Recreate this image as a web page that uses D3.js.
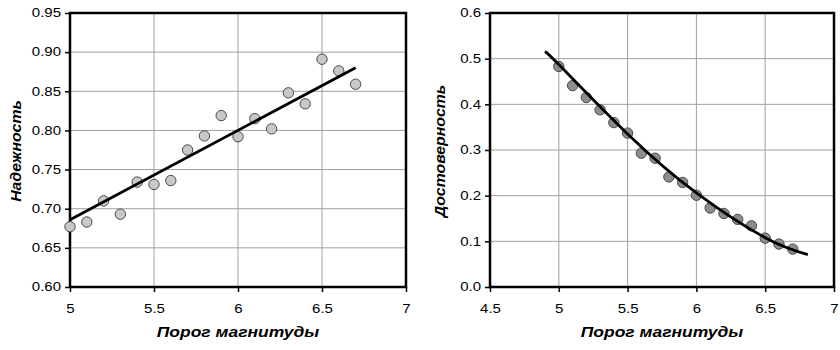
<!DOCTYPE html>
<html>
<head>
<meta charset="utf-8">
<script src="https://cdn.jsdelivr.net/npm/d3@7"></script>
<style>
  html, body { margin: 0; padding: 0; background: #fff; }
  svg { display: block; }
  .tick text { font-family: "Liberation Sans", Arial, sans-serif; font-size: 12px; fill: #000; }
  .title { font-family: "Liberation Sans", Arial, sans-serif; font-size: 14px; font-weight: bold; font-style: italic; fill: #000; }
</style>
</head>
<body>
<svg id="chart" width="840" height="350"></svg>
<script>
// Magnitude thresholds shared by both panels
const magnitudes = [5.0, 5.1, 5.2, 5.3, 5.4, 5.5, 5.6, 5.7, 5.8, 5.9, 6.0, 6.1, 6.2, 6.3, 6.4, 6.5, 6.6, 6.7];

// Left panel: reliability
const reliability = [0.677, 0.683, 0.710, 0.693, 0.734, 0.731, 0.736, 0.775, 0.793, 0.819,
                     0.792, 0.815, 0.802, 0.848, 0.834, 0.891, 0.876, 0.859];
const reliabilityTrendX = [5.0, 6.7];
const reliabilityTrendY = [0.686, 0.880];

// Right panel: credibility
const credibility = [0.483, 0.441, 0.415, 0.388, 0.360, 0.337, 0.293, 0.282, 0.241, 0.229,
                     0.201, 0.173, 0.161, 0.148, 0.134, 0.107, 0.094, 0.083];
const credibilityTrendX = [4.91, 5.0, 5.5, 6.0, 6.5, 6.81];
const credibilityTrendY = [0.512, 0.487, 0.335, 0.206, 0.108, 0.071];

// Axis ticks and labels
const leftXTicks = [5, 5.5, 6, 6.5, 7];
const leftXLabels = ["5", "5.5", "6", "6.5", "7"];
const leftYTicks = [0.60, 0.65, 0.70, 0.75, 0.80, 0.85, 0.90, 0.95];
const leftYLabels = ["0.60", "0.65", "0.70", "0.75", "0.80", "0.85", "0.90", "0.95"];
const rightXTicks = [4.5, 5, 5.5, 6, 6.5, 7];
const rightXLabels = ["4.5", "5", "5.5", "6", "6.5", "7"];
const rightYTicks = [0.0, 0.1, 0.2, 0.3, 0.4, 0.5, 0.6];
const rightYLabels = ["0.0", "0.1", "0.2", "0.3", "0.4", "0.5", "0.6"];

const xTitle = "Порог магнитуды";
const leftYTitle = "Надежность";
const rightYTitle = "Достоверность";

const SX = 1.25;  // horizontal stretch of tick labels and x titles
const SY = 1.13;  // stretch along the rotated y titles

const svg = d3.select("#chart");

function panel(cfg) {
  const x = d3.scaleLinear().domain(cfg.xDomain).range([cfg.left, cfg.right]);
  const y = d3.scaleLinear().domain(cfg.yDomain).range([cfg.bottom, cfg.top]);
  const g = svg.append("g");

  // grid
  g.append("g").selectAll("line").data(cfg.yTicks).join("line")
    .attr("x1", cfg.left).attr("x2", cfg.right)
    .attr("y1", d => y(d)).attr("y2", d => y(d))
    .attr("stroke", "#a0a0a0").attr("stroke-width", 1);
  g.append("g").selectAll("line").data(cfg.xTicks).join("line")
    .attr("x1", d => x(d)).attr("x2", d => x(d))
    .attr("y1", cfg.top).attr("y2", cfg.bottom)
    .attr("stroke", "#a0a0a0").attr("stroke-width", 1);

  // axes
  const yAxis = d3.axisLeft(y).tickValues(cfg.yTicks)
    .tickFormat((d, i) => cfg.yLabels[i]).tickSize(5).tickPadding(2.2).tickSizeOuter(0);
  const ya = g.append("g").attr("transform", `translate(${cfg.left},0)`).call(yAxis);
  ya.select(".domain").remove();
  ya.selectAll(".tick line").attr("stroke", "#000").attr("stroke-width", 1.5);
  ya.selectAll(".tick text").attr("transform", `scale(${SX},1)`);

  const xAxis = d3.axisBottom(x).tickValues(cfg.xTicks)
    .tickFormat((d, i) => cfg.xLabels[i]).tickSize(5).tickPadding(12).tickSizeOuter(0);
  const xa = g.append("g").attr("transform", `translate(0,${cfg.bottom})`).call(xAxis);
  xa.select(".domain").remove();
  xa.selectAll(".tick line").attr("stroke", "#000").attr("stroke-width", 1.5);
  xa.selectAll(".tick text").attr("transform", `scale(${SX},1)`);

  // frame
  g.append("rect")
    .attr("x", cfg.left).attr("y", cfg.top)
    .attr("width", cfg.right - cfg.left).attr("height", cfg.bottom - cfg.top)
    .attr("fill", "none").attr("stroke", "#000").attr("stroke-width", 2.5);

  // points
  g.append("g").selectAll("circle").data(magnitudes).join("circle")
    .attr("cx", d => x(d)).attr("cy", (d, i) => y(cfg.values[i]))
    .attr("r", 5.2)
    .attr("fill", cfg.pointFill).attr("stroke", "#4a4a4a").attr("stroke-width", 1);

  // trend
  const trend = cfg.trendX.map((d, i) => [d, cfg.trendY[i]]);
  g.append("path").datum(trend)
    .attr("d", d3.line().x(d => x(d[0])).y(d => y(d[1])).curve(d3.curveNatural))
    .attr("fill", "none").attr("stroke", "#000").attr("stroke-width", 2.8);

  // titles
  const cx = (cfg.left + cfg.right) / 2;
  g.append("text").attr("class", "title")
    .attr("transform", `translate(${cx},337) scale(${SX},1)`)
    .attr("text-anchor", "middle").text(xTitle);
  g.append("text").attr("class", "title")
    .attr("transform", `translate(${cfg.yTitleX},151) rotate(-90) scale(${SY},1.1)`)
    .attr("text-anchor", "middle").text(cfg.yTitle);
}

panel({
  left: 70, right: 406, top: 13, bottom: 287,
  xDomain: [5, 7], yDomain: [0.60, 0.95],
  xTicks: leftXTicks, xLabels: leftXLabels,
  yTicks: leftYTicks, yLabels: leftYLabels,
  values: reliability, trendX: reliabilityTrendX, trendY: reliabilityTrendY,
  pointFill: "#c8c8c8", yTitle: leftYTitle, yTitleX: 21
});

panel({
  left: 490, right: 834, top: 13, bottom: 287,
  xDomain: [4.5, 7], yDomain: [0.0, 0.6],
  xTicks: rightXTicks, xLabels: rightXLabels,
  yTicks: rightYTicks, yLabels: rightYLabels,
  values: credibility, trendX: credibilityTrendX, trendY: credibilityTrendY,
  pointFill: "#8c8c8c", yTitle: rightYTitle, yTitleX: 445
});
</script>
</body>
</html>
